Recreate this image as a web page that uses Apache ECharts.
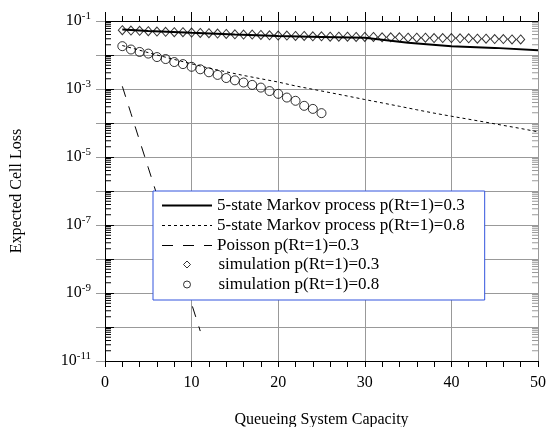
<!DOCTYPE html>
<html>
<head>
<meta charset="utf-8">
<script src="https://cdn.jsdelivr.net/npm/echarts@6/dist/echarts.min.js"></script>
<style>
  html, body { margin: 0; padding: 0; background: #fff; }
  #main { width: 547px; height: 427px; }
</style>
</head>
<body>
<div id="main"></div>
<script>
var FONT = 'Liberation Serif';

var seriesNames = [
  '5-state Markov process p(Rt=1)=0.3',
  '5-state Markov process p(Rt=1)=0.8',
  'Poisson p(Rt=1)=0.3',
  'simulation p(Rt=1)=0.3',
  'simulation p(Rt=1)=0.8'
];

// analytic curves
var markov03X = [2, 5, 10, 15, 20, 25, 30, 35, 40, 45, 50];
var markov03Y = [5.6e-2, 5.1e-2, 4.5e-2, 4.0e-2, 3.6e-2, 3.4e-2, 3.2e-2, 2.3e-2, 1.82e-2, 1.62e-2, 1.38e-2];

var markov08X = [2, 4, 6, 8, 10, 12, 14, 16, 18, 20, 22, 24, 26, 28, 30, 32, 34, 36, 38, 40, 42, 44, 46, 48, 50];
var markov08Y = [1.9e-2, 1.38e-2, 1.0e-2, 7.4e-3, 5.5e-3, 4.1e-3, 3.2e-3, 2.5e-3, 2.0e-3, 1.6e-3, 1.23e-3,
  9.8e-4, 7.8e-4, 6.2e-4, 4.9e-4, 3.9e-4, 3.1e-4, 2.45e-4, 1.95e-4, 1.58e-4, 1.29e-4, 1.05e-4, 8.5e-5, 6.9e-5, 5.5e-5];

var poissonX = [2, 3, 4, 5, 6, 7, 8, 9, 10, 11];
var poissonY = [1.2e-3, 1.9e-4, 3.0e-5, 4.8e-6, 7.6e-7, 1.2e-7, 1.9e-8, 3.0e-9, 4.8e-10, 7.6e-11];

// simulation points
var sim03X = [2, 3, 4, 5, 6, 7, 8, 9, 10, 11, 12, 13, 14, 15, 16, 17, 18, 19, 20, 21, 22, 23, 24, 25,
  26, 27, 28, 29, 30, 31, 32, 33, 34, 35, 36, 37, 38, 39, 40, 41, 42, 43, 44, 45, 46, 47, 48];
var sim03Y = [5.37e-2, 5.25e-2, 5.13e-2, 5.01e-2, 4.9e-2, 4.79e-2, 4.68e-2, 4.68e-2, 4.57e-2, 4.47e-2,
  4.37e-2, 4.27e-2, 4.17e-2, 4.07e-2, 3.98e-2, 3.98e-2, 3.89e-2, 3.8e-2, 3.72e-2, 3.72e-2, 3.63e-2,
  3.63e-2, 3.55e-2, 3.55e-2, 3.47e-2, 3.47e-2, 3.47e-2, 3.39e-2, 3.39e-2, 3.39e-2, 3.31e-2, 3.31e-2,
  3.31e-2, 3.24e-2, 3.24e-2, 3.24e-2, 3.16e-2, 3.16e-2, 3.16e-2, 3.09e-2, 3.09e-2, 3.02e-2, 3.02e-2,
  2.95e-2, 2.95e-2, 2.88e-2, 2.88e-2];

var sim08X = [2, 3, 4, 5, 6, 7, 8, 9, 10, 11, 12, 13, 14, 15, 16, 17, 18, 19, 20, 21, 22, 23, 24, 25];
var sim08Y = [1.82e-2, 1.45e-2, 1.23e-2, 1.1e-2, 8.7e-3, 7.6e-3, 6.2e-3, 5.4e-3, 4.5e-3, 3.8e-3, 3.1e-3,
  2.6e-3, 2.1e-3, 1.8e-3, 1.55e-3, 1.32e-3, 1.1e-3, 8.7e-4, 7.2e-4, 5.6e-4, 4.5e-4, 3.2e-4, 2.6e-4, 1.95e-4];

function pairs(xs, ys) {
  return xs.map(function (x, i) { return [x, ys[i]]; });
}

// log minor ticks (2..9 in each decade)
var minorTicks = [];
for (var e = -11; e < -1; e++) {
  for (var k = 2; k < 10; k++) minorTicks.push([0, k * Math.pow(10, e)]);
}

function renderMinor(params, api) {
  var v = api.value(1);
  var l = api.coord([0, v]);
  var r = api.coord([50, v]);
  return {
    type: 'group',
    children: [
      { type: 'line', shape: { x1: l[0], y1: l[1], x2: l[0] + 6, y2: l[1] }, style: { stroke: '#000', lineWidth: 1 } },
      { type: 'line', shape: { x1: r[0] - 6, y1: r[1], x2: r[0], y2: r[1] }, style: { stroke: '#999', lineWidth: 1 } }
    ]
  };
}

var chart = echarts.init(document.getElementById('main'));

var option = {
  animation: false,
  backgroundColor: '#fff',
  grid: { left: 105, right: 9, top: 21, bottom: 66, outerBoundsMode: 'none' },
  xAxis: [
    {
      type: 'value', position: 'bottom', min: 0, max: 50, interval: 10,
      name: 'Queueing System Capacity', nameLocation: 'middle', nameGap: 51, nameMoveOverlap: false,
      nameTextStyle: { fontFamily: FONT, fontSize: 16, color: '#000' },
      axisLine: { lineStyle: { color: '#000', width: 1 } },
      axisTick: { length: 6, lineStyle: { color: '#000' } },
      minorTick: { show: true, splitNumber: 5, length: 6, lineStyle: { color: '#000' } },
      splitLine: { show: true, lineStyle: { color: '#999', width: 1 } },
      axisLabel: { margin: 14, fontSize: 16, fontFamily: FONT, color: '#000' }
    },
    {
      type: 'value', position: 'top', min: 0, max: 50, interval: 10,
      axisLine: { lineStyle: { color: '#000', width: 1 } },
      axisTick: { length: 9, lineStyle: { color: '#000' } },
      minorTick: { show: true, splitNumber: 5, length: 5, lineStyle: { color: '#000' } },
      splitLine: { show: false },
      axisLabel: { show: false }
    }
  ],
  yAxis: [
    {
      type: 'log', logBase: 10, min: 1e-11, max: 1e-1, interval: 1, position: 'left',
      name: 'Expected Cell Loss', nameLocation: 'middle', nameGap: 80, nameMoveOverlap: false,
      nameTextStyle: { fontFamily: FONT, fontSize: 16, color: '#000' },
      axisLine: { lineStyle: { color: '#000', width: 1 } },
      axisTick: { length: 9, lineStyle: { color: '#999' } },
      splitLine: { show: true, lineStyle: { color: '#999', width: 1 } },
      axisLabel: {
        margin: 14,
        formatter: function (v) {
          var p = Math.round(Math.log10(v));
          if (p % 2 === 0) return '';
          return '{b|10}{s|' + p + '}';
        },
        rich: {
          b: { fontFamily: FONT, fontSize: 16, color: '#000', lineHeight: 20 },
          s: { fontFamily: FONT, fontSize: 11, color: '#000', lineHeight: 12, verticalAlign: 'top' }
        }
      }
    },
    {
      type: 'log', logBase: 10, min: 1e-11, max: 1e-1, interval: 1, position: 'right',
      axisLine: { lineStyle: { color: '#000', width: 1 } },
      axisTick: { length: 9, lineStyle: { color: '#000' } },
      splitLine: { show: false },
      axisLabel: { show: false }
    }
  ],
  legend: [
    {
      orient: 'vertical', left: 153, top: 191, selectedMode: false,
      itemWidth: 50, itemHeight: 14, itemGap: 3,
      padding: [6, 20, 46, 8],
      backgroundColor: '#fff', borderColor: '#3355dd', borderWidth: 1,
      textStyle: { fontFamily: FONT, fontSize: 17, color: '#000' },
      data: [
        { name: seriesNames[0], itemStyle: { opacity: 0 }, lineStyle: { width: 2 } },
        { name: seriesNames[1], itemStyle: { opacity: 0 }, lineStyle: { width: 1 } },
        { name: seriesNames[2], itemStyle: { opacity: 0 }, lineStyle: { width: 1 } }
      ]
    },
    {
      orient: 'vertical', left: 183, top: 256, selectedMode: false, z: 10,
      itemWidth: 7, itemHeight: 7, itemGap: 3,
      padding: 0,
      textStyle: { fontFamily: FONT, fontSize: 17, color: '#000', padding: [0, 0, 0, 23] },
      data: [
        { name: seriesNames[3], itemStyle: { borderWidth: 1 } },
        { name: seriesNames[4], itemStyle: { borderWidth: 1 } }
      ]
    }
  ],
  series: [
    {
      type: 'custom', renderItem: renderMinor, data: minorTicks, silent: true, clip: false,
      xAxisIndex: 0, yAxisIndex: 0, z: 1
    },
    {
      name: seriesNames[0], type: 'line', data: pairs(markov03X, markov03Y), symbol: 'none',
      lineStyle: { color: '#000', width: 2 }, itemStyle: { color: '#000' }, emphasis: { disabled: true }
    },
    {
      name: seriesNames[1], type: 'line', data: pairs(markov08X, markov08Y), symbol: 'none',
      lineStyle: { color: '#000', width: 1, type: [3, 3] }, itemStyle: { color: '#000' }, emphasis: { disabled: true }
    },
    {
      name: seriesNames[2], type: 'line', data: pairs(poissonX, poissonY), symbol: 'none',
      lineStyle: { color: '#000', width: 1, type: [11, 10] }, itemStyle: { color: '#000' }, emphasis: { disabled: true }
    },
    {
      name: seriesNames[3], type: 'scatter', data: pairs(sim03X, sim03Y), symbol: 'diamond', symbolSize: [8, 9],
      itemStyle: { color: 'transparent', borderColor: '#000', borderWidth: 1 }, emphasis: { disabled: true }
    },
    {
      name: seriesNames[4], type: 'scatter', data: pairs(sim08X, sim08Y), symbol: 'circle', symbolSize: 9,
      itemStyle: { color: 'transparent', borderColor: '#000', borderWidth: 1 }, emphasis: { disabled: true }
    }
  ]
};

chart.setOption(option);
window.onresize = chart.resize;
</script>
</body>
</html>
